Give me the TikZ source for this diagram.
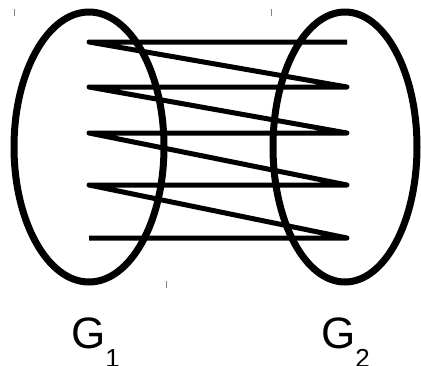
\documentclass[tikz,border=0pt]{standalone}
\usepackage{fontspec}
\setmainfont{Liberation Sans}
\begin{document}
\begin{tikzpicture}[x=1pt,y=-1pt,line join=round]
\useasboundingbox (0,0) rectangle (421,365);
\draw[line width=7pt](89,147) ellipse (75 and 135);
\draw[line width=7pt](345,147) ellipse (72 and 135);
\coordinate (a1) at (89,42);\coordinate (b1) at (347,42);
\coordinate (a2) at (89,87);\coordinate (b2) at (347,87);
\coordinate (a3) at (89,133);\coordinate (b3) at (347,133);
\coordinate (a4) at (89,185);\coordinate (b4) at (347,185);
\coordinate (a5) at (89,238);\coordinate (b5) at (347,238);
\draw[line width=5pt](b1)--(a1)--(b2)--(a2)--(b3)--(a3)--(b4)--(a4)--(b5)--(a5);
\draw[gray,line width=1pt](14,9)--(14,16);
\draw[gray,line width=1pt](271,9)--(271,16);
\draw[gray,line width=1pt](166,281)--(166,288);
\node (g1) at (71,348)[anchor=base west,inner sep=0pt]{\fontsize{44}{44}\selectfont G\raisebox{-19pt}{\fontsize{26}{26}\selectfont 1}};
\node (g2) at (321,348)[anchor=base west,inner sep=0pt]{\fontsize{44}{44}\selectfont G\raisebox{-19pt}{\fontsize{26}{26}\selectfont 2}};
\end{tikzpicture}
\end{document}
